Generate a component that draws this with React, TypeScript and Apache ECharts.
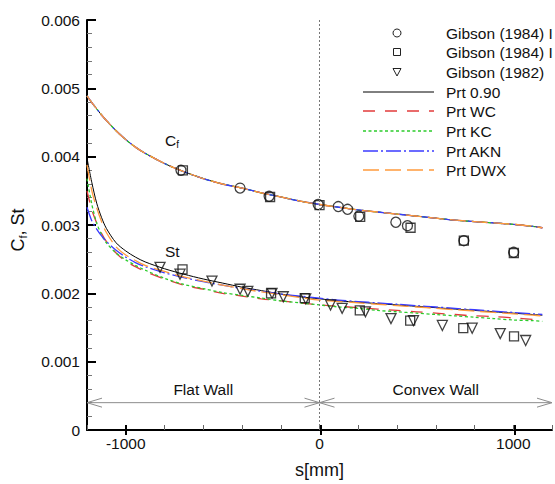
import React, { useEffect, useRef } from "react";
import * as echarts from "echarts";

const FONT = "'Liberation Sans', Arial, Helvetica, sans-serif";

// streamwise coordinate grid for the model curves
const sGrid = [-1200, -1175, -1150, -1125, -1100, -1050, -1000, -950, -900, -800, -700, -600, -500, -400, -300, -200, -100, 0, 100, 200, 300, 400, 500, 600, 700, 800, 900, 1000, 1100, 1150];

// skin friction (all models nearly coincide)
const cfModel = [0.00489, 0.00479, 0.0047, 0.00461, 0.00453, 0.00438, 0.00425, 0.00414, 0.00405, 0.0039, 0.00378, 0.00368, 0.0036, 0.00354, 0.00347, 0.00341, 0.00335, 0.0033, 0.00326, 0.00322, 0.00319, 0.00316, 0.00313, 0.0031, 0.00307, 0.00305, 0.00303, 0.00301, 0.00298, 0.00296];

// Stanton number per Prt model
const stPrt090 = [0.00398, 0.00362, 0.00332, 0.00311, 0.00295, 0.00274, 0.00262, 0.00253, 0.00246, 0.00236, 0.00228, 0.00221, 0.00215, 0.00209, 0.00204, 0.00199, 0.00195, 0.00192, 0.00189, 0.00187, 0.00185, 0.00183, 0.00181, 0.00179, 0.00177, 0.00175, 0.00173, 0.00171, 0.00169, 0.00168];
const stWC = [0.0035, 0.00322, 0.00303, 0.00288, 0.00276, 0.00259, 0.00247, 0.00239, 0.00232, 0.00221, 0.00212, 0.00206, 0.002, 0.00196, 0.00192, 0.00189, 0.00186, 0.00183, 0.00181, 0.00179, 0.00177, 0.00175, 0.00173, 0.00171, 0.00169, 0.00167, 0.00166, 0.00164, 0.00162, 0.00161];
const stKC = [0.00368, 0.0033, 0.00303, 0.00286, 0.00274, 0.00259, 0.00249, 0.00241, 0.00234, 0.00222, 0.00213, 0.00207, 0.00201, 0.00197, 0.00193, 0.00189, 0.00186, 0.00183, 0.0018, 0.00178, 0.00175, 0.00173, 0.00171, 0.00169, 0.00167, 0.00165, 0.00163, 0.00161, 0.0016, 0.00159];
const stAKN = [0.00326, 0.00306, 0.00294, 0.00284, 0.00276, 0.00263, 0.00253, 0.00245, 0.00239, 0.0023, 0.00223, 0.00217, 0.00212, 0.00207, 0.00203, 0.00199, 0.00196, 0.00193, 0.0019, 0.00188, 0.00186, 0.00184, 0.00182, 0.0018, 0.00178, 0.00176, 0.00174, 0.00172, 0.0017, 0.00169];
const stDWX = [0.00388, 0.0035, 0.00325, 0.00305, 0.00289, 0.00268, 0.00256, 0.00248, 0.00241, 0.00232, 0.00224, 0.00218, 0.00212, 0.00207, 0.00202, 0.00198, 0.00194, 0.0019, 0.00188, 0.00186, 0.00184, 0.00182, 0.0018, 0.00178, 0.00176, 0.00174, 0.00172, 0.0017, 0.00168, 0.00167];

// experimental data
const cfCircleS = [-715, -410, -260, -7, 97, 145, 203, 394, 454, 745, 1002];
const cfCircleV = [0.0038, 0.00354, 0.00342, 0.0033, 0.00327, 0.00323, 0.00313, 0.00304, 0.00299, 0.00277, 0.0026];
const cfSquareS = [-705, -255, 0, 210, 470, 745, 1003];
const cfSquareV = [0.0038, 0.00341, 0.00329, 0.00312, 0.00296, 0.00277, 0.00259];
const stSquareS = [-707, -250, -76, 208, 468, 742, 1004];
const stSquareV = [0.00235, 0.002, 0.00193, 0.00175, 0.0016, 0.00149, 0.00137];
const stTriS = [-823, -720, -555, -410, -370, -245, -187, -71, 57, 117, 237, 369, 485, 634, 788, 933, 1064];
const stTriV = [0.00238, 0.00228, 0.00218, 0.00206, 0.00203, 0.002, 0.00195, 0.00192, 0.00183, 0.00178, 0.00173, 0.00163, 0.0016, 0.00153, 0.00149, 0.00141, 0.00131];

// region arrows
const regionStart = [-1200, 0];
const regionEnd = [0, 1200];
const regionY = 0.0004;
const regionLabels = ["Flat Wall", "Convex Wall"];

const xMin = -1200;
const xMax = 1200;
const xMajorMin = -1000;
const xMajorMax = 1000;
const xMajorStep = 1000;

const legendLabels = ["Gibson (1984) I", "Gibson (1984) I", "Gibson (1982)", "Prt 0.90", "Prt WC", "Prt KC", "Prt AKN", "Prt DWX"];

const models = [
  { name: "Prt 0.90", st: stPrt090, color: "#000000", type: "solid" as any, width: 1 },
  { name: "Prt WC", st: stWC, color: "#e23b3b", type: [12, 10], width: 1.3 },
  { name: "Prt KC", st: stKC, color: "#2ccc2c", type: [3, 2.5], width: 1.3 },
  { name: "Prt AKN", st: stAKN, color: "#3b3bff", type: [15, 3, 2, 3], width: 1.3 },
  { name: "Prt DWX", st: stDWX, color: "#ff9a3c", type: [16, 6], width: 1.3 },
];

const pairs = (xs: number[], ys: number[]) => xs.map((x, i) => [x, ys[i]]);

export default function App() {
  const ref = useRef<HTMLDivElement>(null);
  useEffect(() => {
    if (!ref.current) return;
    const chart = echarts.init(ref.current, undefined, { renderer: "svg" });

    const W = 555, GL = 87, GR = 1;
    const plotW = W - GL - GR;
    const inset = ((xMajorMin - xMin) / (xMax - xMin)) * plotW;
    const insetR = ((xMax - xMajorMax) / (xMax - xMin)) * plotW;

    const markerStyle = { color: "rgba(0,0,0,0)", borderColor: "#111", borderWidth: 1.3 };

    const series: any[] = [];
    models.forEach((m) => {
      series.push({
        type: "line",
        name: m.name + " Cf",
        data: pairs(sGrid, cfModel),
        showSymbol: false,
        smooth: 0.3,
        lineStyle: { color: m.color, width: m.width, type: m.type },
        silent: true,
        z: 3,
      });
    });
    models.forEach((m) => {
      series.push({
        type: "line",
        name: m.name + " St",
        data: pairs(sGrid, m.st),
        showSymbol: false,
        smooth: 0.3,
        lineStyle: { color: m.color, width: m.width, type: m.type },
        silent: true,
        z: 3,
      });
    });
    series.push(
      { type: "scatter", name: "cf circles", data: pairs(cfCircleS, cfCircleV), symbol: "circle", symbolSize: 10, itemStyle: markerStyle, z: 4 },
      { type: "scatter", name: "cf squares", data: pairs(cfSquareS, cfSquareV), symbol: "rect", symbolSize: 9, itemStyle: markerStyle, z: 4 },
      { type: "scatter", name: "st squares", data: pairs(stSquareS, stSquareV), symbol: "rect", symbolSize: 9, itemStyle: markerStyle, z: 4 },
      { type: "scatter", name: "st triangles", data: pairs(stTriS, stTriV), symbol: "triangle", symbolRotate: 180, symbolSize: 10, itemStyle: markerStyle, z: 4 }
    );
    series.push({
      type: "custom",
      name: "regions",
      data: regionStart.map((s, i) => [s, regionEnd[i], regionY]),
      encode: { x: [0, 1], y: 2 },
      silent: true,
      z: 1,
      renderItem: (params: any, api: any) => {
        const y = api.value(2);
        const a = api.coord([api.value(0), y]);
        const b = api.coord([api.value(1), y]);
        const L = 15, H = 4.5, col = "#8c8c8c";
        return {
          type: "group",
          children: [
            { type: "line", shape: { x1: a[0], y1: a[1], x2: b[0], y2: b[1] }, style: { stroke: col, lineWidth: 1 } },
            { type: "polyline", shape: { points: [[a[0] + L, a[1] - H], [a[0], a[1]], [a[0] + L, a[1] + H]] }, style: { stroke: col, fill: "none", lineWidth: 1 } },
            { type: "polyline", shape: { points: [[b[0] - L, b[1] - H], [b[0], b[1]], [b[0] - L, b[1] + H]] }, style: { stroke: col, fill: "none", lineWidth: 1 } },
            {
              type: "text",
              x: (a[0] + b[0]) / 2,
              y: a[1] - 13,
              style: { text: regionLabels[params.dataIndex], fontSize: 15.5, fontFamily: FONT, fill: "#111", align: "center", verticalAlign: "middle" },
            },
          ],
        };
      },
      markLine: {
        silent: true,
        symbol: ["none", "none"],
        label: { show: false },
        lineStyle: { type: [2, 2], color: "#777", width: 1 },
        data: [{ xAxis: 0 }],
      },
    });

    const legendGraphics: any[] = [];
    const rowY = [33, 52, 72, 92, 111, 131, 151, 170];
    const mx = 397;
    legendLabels.forEach((lab, i) => {
      const y = rowY[i];
      if (i === 0) legendGraphics.push({ type: "circle", shape: { cx: mx, cy: y, r: 4 }, style: { stroke: "#222", fill: "none", lineWidth: 1 } });
      else if (i === 1) legendGraphics.push({ type: "rect", shape: { x: mx - 3.5, y: y - 3.5, width: 7, height: 7 }, style: { stroke: "#222", fill: "none", lineWidth: 1 } });
      else if (i === 2) legendGraphics.push({ type: "polygon", shape: { points: [[mx - 4, y - 3.5], [mx + 4, y - 3.5], [mx, y + 4]] }, style: { stroke: "#222", fill: "none", lineWidth: 1 } });
      else {
        const m = models[i - 3];
        legendGraphics.push({
          type: "line",
          shape: { x1: 363, y1: y, x2: 434, y2: y },
          style: { stroke: m.color, lineWidth: m.width, lineDash: m.type === "solid" ? null : m.type },
        });
      }
      legendGraphics.push({
        type: "text",
        x: 446,
        y: y,
        style: { text: lab, fontSize: 15.5, fontFamily: FONT, fill: "#111", align: "left", verticalAlign: "middle" },
      });
    });

    chart.setOption({
      animation: false,
      backgroundColor: "#fff",
      grid: [
        { left: GL, right: GR, top: 20, bottom: 49 },
        { left: GL + inset, right: GR + insetR, top: 20, bottom: 49 },
      ],
      xAxis: [
        {
          type: "value",
          gridIndex: 0,
          min: xMin,
          max: xMax,
          interval: 200,
          name: "s[mm]",
          nameLocation: "middle",
          nameGap: 31,
          nameTextStyle: { fontSize: 18, fontFamily: FONT, color: "#111" },
          axisLine: { onZero: false, lineStyle: { color: "#000", width: 2 } },
          axisTick: { inside: true, length: 5, lineStyle: { color: "#666", width: 1 } },
          axisLabel: {
            margin: 5,
            fontSize: 15.5,
            fontFamily: FONT,
            color: "#111",
            formatter: (v: number) => (v % xMajorStep === 0 ? String(v) : ""),
          },
          splitLine: { show: false },
        },
        {
          type: "value",
          gridIndex: 1,
          min: xMajorMin,
          max: xMajorMax,
          interval: xMajorStep,
          axisLine: { show: false, onZero: false },
          axisTick: { show: true, inside: true, length: 10, lineStyle: { color: "#000", width: 2 } },
          axisLabel: { show: false },
          splitLine: { show: false },
          z: 5,
        },
      ],
      yAxis: [
        {
          type: "value",
          gridIndex: 0,
          min: 0,
          max: 0.006,
          interval: 0.001,
          axisLine: { onZero: false, lineStyle: { color: "#000", width: 2 } },
          axisTick: { inside: true, length: 9, lineStyle: { color: "#000", width: 2 } },
          minorTick: { show: true, splitNumber: 5, length: 5, lineStyle: { color: "#777", width: 1 } },
          axisLabel: { margin: 7, fontSize: 15.5, fontFamily: FONT, color: "#111" },
          splitLine: { show: false },
          minorSplitLine: { show: false },
        },
        { type: "value", gridIndex: 1, min: 0, max: 0.006, show: false },
      ],
      graphic: [
        ...legendGraphics,
        {
          type: "text",
          x: 18,
          y: 230,
          rotation: Math.PI / 2,
          style: {
            text: "{c|C}{s|f}{c|, St}",
            align: "center",
            verticalAlign: "middle",
            rich: {
              c: { fontSize: 18, fontFamily: FONT, fill: "#111", lineHeight: 20 },
              s: { fontSize: 11, fontFamily: FONT, fill: "#111", lineHeight: 10, verticalAlign: "bottom" },
            },
          },
        },
        {
          type: "text",
          x: 165,
          y: 140.5,
          style: {
            text: "{c|C}{s|f}",
            align: "left",
            verticalAlign: "middle",
            rich: {
              c: { fontSize: 15.5, fontFamily: FONT, fill: "#111", lineHeight: 18 },
              s: { fontSize: 10, fontFamily: FONT, fill: "#111", lineHeight: 8, verticalAlign: "bottom" },
            },
          },
        },
        {
          type: "text",
          x: 165,
          y: 251,
          style: { text: "St", fontSize: 15.5, fontFamily: FONT, fill: "#111", align: "left", verticalAlign: "middle" },
        },
      ],
      series,
    });
    return () => chart.dispose();
  }, []);
  return <div ref={ref} style={{ position: "fixed", left: 0, top: 0, width: 555, height: 484 }} />;
}
